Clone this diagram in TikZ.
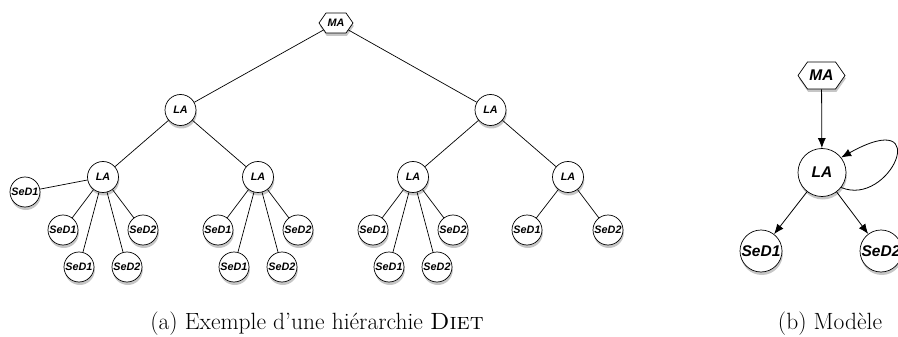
\documentclass[tikz,border=0pt]{standalone}
\usepackage{fontspec}
\usepackage{tikz}
\usetikzlibrary{shapes.symbols,shadows,arrows.meta}
\newfontfamily\agentfont{Liberation Sans}
\tikzstyle{agent} = [draw, fill=white, line width=0.7pt, inner sep=0pt, drop shadow={shadow xshift=0.8pt, shadow yshift=-3pt, opacity=0.45}]
\tikzstyle{small} = [font=\agentfont\bfseries\itshape\fontsize{10.8}{12}\selectfont]
\tikzstyle{big} = [font=\agentfont\bfseries\itshape\fontsize{15.5}{18}\selectfont]
\tikzstyle{ma} = [agent, signal, signal to=east and west, signal pointer angle=110]
\tikzstyle{la} = [agent, circle]
\tikzstyle{sed} = [agent, circle]
\tikzstyle{link} = [line width=0.7pt]
\tikzstyle{arr} = [line width=0.8pt, -{Latex[length=10pt,width=8pt]}]
\tikzstyle{caption} = [anchor=base, font=\fontsize{23.5}{28}\selectfont]

\begin{document}
\begin{tikzpicture}[x=1pt, y=-1pt]
		\useasboundingbox (0,0) rectangle (898,337);
		% (a) hierarchy
		\node[ma, small, minimum width=34pt, minimum height=20pt] (ma) at (336,23) {MA};
		\node[la, small, minimum size=31pt] (la1) at (180.5,110) {LA};
		\node[la, small, minimum size=31pt] (la2) at (490.5,110) {LA};
		\foreach \i/\x in {1/103, 2/258, 3/413, 4/568}
			\node[la, small, minimum size=31pt] (lb\i) at (\x,177) {LA};
		\node[sed, small, minimum size=30pt] (s1-0) at (25,192) {SeD1};
		\foreach \i/\x in {1/103, 2/258, 3/413} {
			\node[sed, small, minimum size=30pt] (s\i-1) at (\x-40,230) {SeD1};
			\node[sed, small, minimum size=30pt] (s\i-2) at (\x-24,267) {SeD1};
			\node[sed, small, minimum size=30pt] (s\i-3) at (\x+24,267) {SeD2};
			\node[sed, small, minimum size=30pt] (s\i-4) at (\x+40,230) {SeD2};
		}
		\node[sed, small, minimum size=30pt] (s4-1) at (527,230) {SeD1};
		\node[sed, small, minimum size=30pt] (s4-4) at (608,230) {SeD2};
		\draw[link] (ma) -- (la1);
		\draw[link] (ma) -- (la2);
		\draw[link] (la1) -- (lb1);
		\draw[link] (la1) -- (lb2);
		\draw[link] (la2) -- (lb3);
		\draw[link] (la2) -- (lb4);
		\draw[link] (lb1) -- (s1-0);
		\foreach \i in {1,2,3}
			\foreach \j in {1,...,4}
				\draw[link] (lb\i) -- (s\i-\j);
		\draw[link] (lb4) -- (s4-1);
		\draw[link] (lb4) -- (s4-4);
		\node[caption] (capa) at (317,329) {(a) Exemple d'une hiérarchie \textsc{Diet}};
		% (b) model
		\node[ma, big, minimum width=47pt, minimum height=27pt] (mb) at (821.5,75.5) {MA};
		\node[la, big, minimum size=48pt] (lc) at (822,172.5) {LA};
		\node[sed, big, minimum size=42pt] (sa) at (761,251) {SeD1};
		\node[sed, big, minimum size=42pt] (sb) at (881,251) {SeD2};
		\draw[arr] (mb) -- (lc);
		\draw[arr] (lc) -- (sa);
		\draw[arr] (lc) -- (sb);
		\draw[arr] (lc.-38) .. controls (890,208) and (935,105) .. (lc.38);
		\node[caption] (capb) at (830,329) {(b) Modèle};
\end{tikzpicture}
\end{document}
